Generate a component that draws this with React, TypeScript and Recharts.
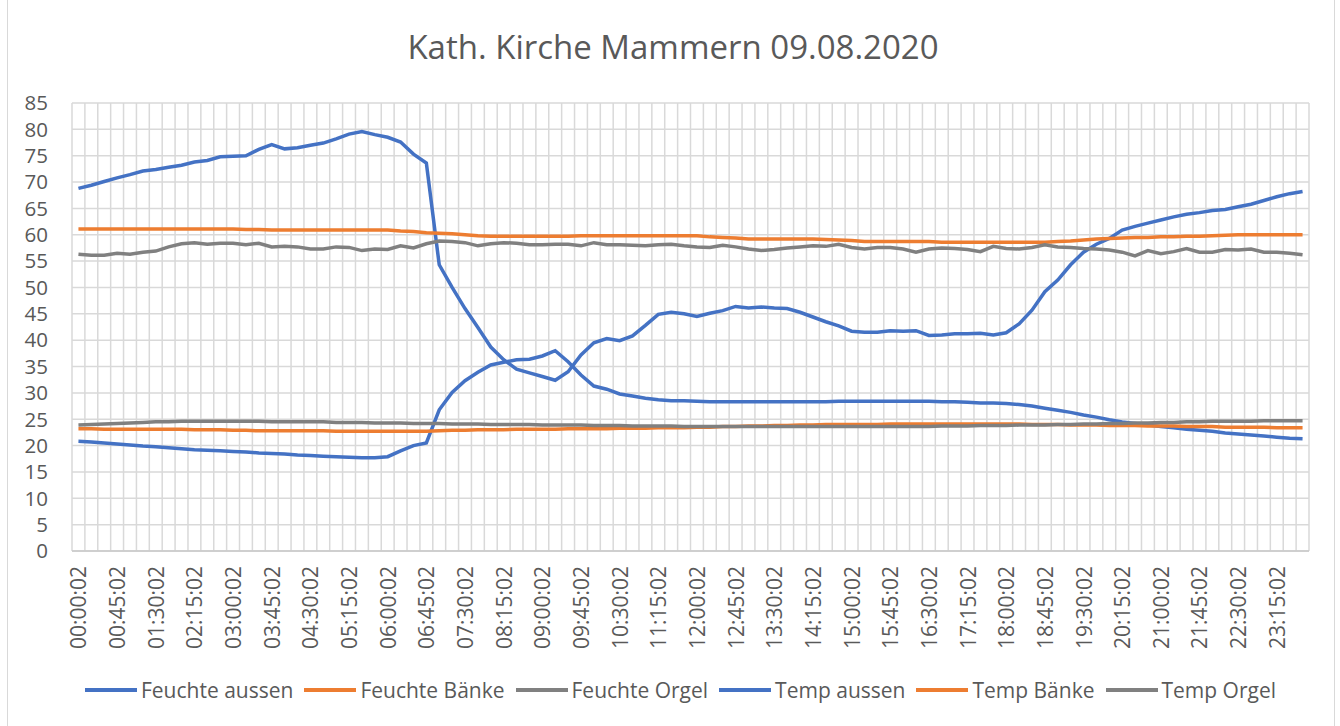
import { CartesianGrid, Legend, Line, LineChart, XAxis, YAxis } from "recharts";

const times = [
  "00:00:02", "00:15:02", "00:30:02", "00:45:02", "01:00:02", "01:15:02", "01:30:02", "01:45:02",
  "02:00:02", "02:15:02", "02:30:02", "02:45:02", "03:00:02", "03:15:02", "03:30:02", "03:45:02",
  "04:00:02", "04:15:02", "04:30:02", "04:45:02", "05:00:02", "05:15:02", "05:30:02", "05:45:02",
  "06:00:02", "06:15:02", "06:30:02", "06:45:02", "07:00:02", "07:15:02", "07:30:02", "07:45:02",
  "08:00:02", "08:15:02", "08:30:02", "08:45:02", "09:00:02", "09:15:02", "09:30:02", "09:45:02",
  "10:00:02", "10:15:02", "10:30:02", "10:45:02", "11:00:02", "11:15:02", "11:30:02", "11:45:02",
  "12:00:02", "12:15:02", "12:30:02", "12:45:02", "13:00:02", "13:15:02", "13:30:02", "13:45:02",
  "14:00:02", "14:15:02", "14:30:02", "14:45:02", "15:00:02", "15:15:02", "15:30:02", "15:45:02",
  "16:00:02", "16:15:02", "16:30:02", "16:45:02", "17:00:02", "17:15:02", "17:30:02", "17:45:02",
  "18:00:02", "18:15:02", "18:30:02", "18:45:02", "19:00:02", "19:15:02", "19:30:02", "19:45:02",
  "20:00:02", "20:15:02", "20:30:02", "20:45:02", "21:00:02", "21:15:02", "21:30:02", "21:45:02",
  "22:00:02", "22:15:02", "22:30:02", "22:45:02", "23:00:02", "23:15:02", "23:30:02", "23:45:02",
];

const feuchteAussen = [
  68.8, 69.4, 70.1, 70.8, 71.4, 72.1, 72.4, 72.8, 73.2, 73.8, 74.1, 74.8,
  74.9, 75.0, 76.2, 77.1, 76.3, 76.5, 77.0, 77.4, 78.2, 79.1, 79.6, 79.0,
  78.5, 77.6, 75.3, 73.6, 54.3, 50.0, 46.0, 42.4, 38.7, 36.3, 34.5, 33.8,
  33.1, 32.4, 34.0, 37.2, 39.5, 40.3, 39.9, 40.8, 42.8, 44.9, 45.3, 45.0,
  44.5, 45.1, 45.6, 46.4, 46.1, 46.3, 46.1, 46.0, 45.3, 44.4, 43.5, 42.7,
  41.7, 41.5, 41.5, 41.8, 41.7, 41.8, 40.9, 41.0, 41.2, 41.2, 41.3, 41.0,
  41.4, 43.1, 45.7, 49.2, 51.4, 54.3, 56.7, 58.2, 59.3, 60.9, 61.6, 62.2,
  62.8, 63.4, 63.9, 64.2, 64.6, 64.8, 65.3, 65.8, 66.5, 67.2, 67.8, 68.2,
];

const feuchteBaenke = [
  61.1, 61.1, 61.1, 61.1, 61.1, 61.1, 61.1, 61.1, 61.1, 61.1, 61.1, 61.1,
  61.1, 61.0, 61.0, 60.9, 60.9, 60.9, 60.9, 60.9, 60.9, 60.9, 60.9, 60.9,
  60.9, 60.7, 60.6, 60.4, 60.3, 60.2, 60.0, 59.8, 59.7, 59.7, 59.7, 59.7,
  59.7, 59.7, 59.7, 59.8, 59.8, 59.8, 59.8, 59.8, 59.8, 59.8, 59.8, 59.8,
  59.8, 59.6, 59.5, 59.4, 59.2, 59.2, 59.2, 59.2, 59.2, 59.2, 59.1, 59.0,
  58.9, 58.7, 58.7, 58.7, 58.7, 58.7, 58.7, 58.6, 58.6, 58.6, 58.6, 58.6,
  58.6, 58.6, 58.6, 58.6, 58.7, 58.8, 59.0, 59.2, 59.3, 59.4, 59.5, 59.5,
  59.6, 59.6, 59.7, 59.7, 59.8, 59.9, 60.0, 60.0, 60.0, 60.0, 60.0, 60.0,
];

const feuchteOrgel = [
  56.3, 56.1, 56.1, 56.5, 56.3, 56.7, 56.9, 57.7, 58.3, 58.5, 58.2, 58.4,
  58.4, 58.1, 58.4, 57.7, 57.8, 57.7, 57.3, 57.3, 57.7, 57.6, 57.0, 57.3,
  57.2, 57.9, 57.5, 58.3, 58.8, 58.7, 58.5, 57.9, 58.3, 58.5, 58.4, 58.1,
  58.1, 58.2, 58.2, 57.9, 58.5, 58.1, 58.1, 58.0, 57.9, 58.1, 58.2, 57.9,
  57.7, 57.6, 58.0, 57.7, 57.3, 57.0, 57.2, 57.5, 57.7, 57.9, 57.8, 58.2,
  57.6, 57.3, 57.6, 57.6, 57.3, 56.7, 57.3, 57.5, 57.4, 57.2, 56.8, 57.8,
  57.4, 57.3, 57.6, 58.1, 57.7, 57.6, 57.4, 57.3, 57.1, 56.7, 56.0, 57.0,
  56.4, 56.8, 57.4, 56.7, 56.7, 57.2, 57.1, 57.3, 56.7, 56.7, 56.5, 56.2,
];

const tempAussen = [
  20.8, 20.7, 20.5, 20.3, 20.1, 19.9, 19.8, 19.6, 19.4, 19.2, 19.1, 19.0,
  18.9, 18.8, 18.6, 18.5, 18.4, 18.2, 18.1, 18.0, 17.9, 17.8, 17.7, 17.7,
  17.9, 19.0, 20.0, 20.5, 26.8, 30.1, 32.3, 33.9, 35.3, 35.8, 36.3, 36.4,
  37.0, 38.0, 35.9, 33.4, 31.3, 30.7, 29.8, 29.4, 29.0, 28.7, 28.5, 28.5,
  28.4, 28.3, 28.3, 28.3, 28.3, 28.3, 28.3, 28.3, 28.3, 28.3, 28.3, 28.4,
  28.4, 28.4, 28.4, 28.4, 28.4, 28.4, 28.4, 28.3, 28.3, 28.2, 28.1, 28.1,
  28.0, 27.8, 27.5, 27.1, 26.7, 26.3, 25.8, 25.4, 24.9, 24.5, 24.2, 23.9,
  23.6, 23.4, 23.1, 22.9, 22.7, 22.4, 22.2, 22.0, 21.8, 21.6, 21.4, 21.3,
];

const tempBaenke = [
  23.2, 23.2, 23.1, 23.1, 23.1, 23.1, 23.1, 23.1, 23.1, 23.0, 23.0, 23.0,
  22.9, 22.9, 22.8, 22.8, 22.8, 22.8, 22.8, 22.8, 22.7, 22.7, 22.7, 22.7,
  22.7, 22.7, 22.7, 22.7, 22.8, 22.9, 22.9, 23.0, 23.0, 23.0, 23.1, 23.1,
  23.1, 23.1, 23.2, 23.2, 23.2, 23.2, 23.3, 23.3, 23.3, 23.4, 23.4, 23.4,
  23.5, 23.5, 23.6, 23.6, 23.7, 23.7, 23.8, 23.8, 23.9, 23.9, 24.0, 24.0,
  24.0, 24.0, 24.0, 24.1, 24.1, 24.1, 24.1, 24.1, 24.1, 24.1, 24.1, 24.1,
  24.1, 24.1, 24.0, 24.0, 24.0, 23.9, 23.9, 23.9, 23.8, 23.8, 23.8, 23.7,
  23.7, 23.7, 23.6, 23.6, 23.6, 23.5, 23.5, 23.5, 23.5, 23.4, 23.4, 23.4,
];

const tempOrgel = [
  23.9, 24.0, 24.1, 24.2, 24.3, 24.4, 24.5, 24.5, 24.6, 24.6, 24.6, 24.6,
  24.6, 24.6, 24.6, 24.5, 24.5, 24.5, 24.5, 24.5, 24.4, 24.4, 24.4, 24.3,
  24.3, 24.3, 24.2, 24.2, 24.2, 24.1, 24.1, 24.1, 24.0, 24.0, 24.0, 24.0,
  23.9, 23.9, 23.9, 23.9, 23.8, 23.8, 23.8, 23.7, 23.7, 23.7, 23.7, 23.6,
  23.6, 23.6, 23.6, 23.6, 23.6, 23.6, 23.6, 23.6, 23.6, 23.6, 23.6, 23.6,
  23.6, 23.6, 23.6, 23.6, 23.6, 23.6, 23.6, 23.7, 23.7, 23.7, 23.8, 23.8,
  23.8, 23.9, 23.9, 23.9, 24.0, 24.0, 24.1, 24.1, 24.2, 24.2, 24.3, 24.3,
  24.4, 24.4, 24.5, 24.5, 24.6, 24.6, 24.6, 24.6, 24.7, 24.7, 24.7, 24.7,
];

const yTicks = [0, 5, 10, 15, 20, 25, 30, 35, 40, 45, 50, 55, 60, 65, 70, 75, 80, 85];

const series = [
  { key: "feuchteAussen", name: "Feuchte aussen", color: "#4472C4" },
  { key: "feuchteBaenke", name: "Feuchte Bänke", color: "#ED7D31" },
  { key: "feuchteOrgel", name: "Feuchte Orgel", color: "#808080" },
  { key: "tempAussen", name: "Temp aussen", color: "#4472C4" },
  { key: "tempBaenke", name: "Temp Bänke", color: "#ED7D31" },
  { key: "tempOrgel", name: "Temp Orgel", color: "#808080" },
];

const data = times.map((time, i) => ({
  time,
  feuchteAussen: feuchteAussen[i],
  feuchteBaenke: feuchteBaenke[i],
  feuchteOrgel: feuchteOrgel[i],
  tempAussen: tempAussen[i],
  tempBaenke: tempBaenke[i],
  tempOrgel: tempOrgel[i],
}));

const FONT = "'Open Sans', sans-serif";
const TEXT = "#595959";

// excel draws the vertical grid between categories, not through the points
function categoryBoundaries({ offset }: any) {
  const step = offset.width / times.length;
  return [...times, ""].map((_, k) => offset.left + step * k);
}

function TimeTick({ x, y, payload }: any) {
  return (
    <text
      x={x}
      y={y}
      transform={`rotate(-90 ${x} ${y})`}
      textAnchor="end"
      dominantBaseline="central"
      fill={TEXT}
      fontSize={21}
      fontFamily={FONT}
    >
      {payload.value}
    </text>
  );
}

function LegendRow() {
  return (
    <div style={{ display: "flex", justifyContent: "center", alignItems: "center", fontFamily: FONT, fontSize: 21, color: TEXT }}>
      {series.map((s) => (
        <div key={s.key} style={{ display: "flex", alignItems: "center", marginRight: 11 }}>
          <span style={{ display: "inline-block", width: 52, height: 4, background: s.color, marginRight: 4 }} />
          <span>{s.name}</span>
        </div>
      ))}
    </div>
  );
}

export default function App() {
  return (
    <div style={{ position: "absolute", left: 0, top: 0, width: 1340, height: 726, background: "#fff" }}>
      <div style={{ position: "absolute", left: 7, top: 0, width: 1326, height: 726, borderLeft: "1px solid #d9d9d9", borderRight: "1px solid #d9d9d9" }} />
      <div style={{ position: "absolute", left: 0, top: 24, width: 1346, textAlign: "center", fontFamily: FONT, fontSize: 33, color: TEXT }}>
        Kath. Kirche Mammern 09.08.2020
      </div>
      <div style={{ position: "absolute", left: 0, top: 0 }}>
        <LineChart width={1340} height={726} data={data} margin={{ top: 103, right: 31, bottom: 65, left: 12 }}>
          <CartesianGrid stroke="#d9d9d9" strokeWidth={1.5} verticalCoordinatesGenerator={categoryBoundaries} />
          <XAxis
            dataKey="time"
            scale="band"
            interval={2}
            tickLine={false}
            tickSize={6}
            tickMargin={9}
            height={110}
            axisLine={{ stroke: "#c8c8c8", strokeWidth: 1.5 }}
            tick={<TimeTick />}
          />
          <YAxis
            width={60}
            domain={[0, 85]}
            ticks={yTicks}
            interval={0}
            axisLine={false}
            tickLine={false}
            tickSize={6}
            tickMargin={18}
            tick={{ fill: TEXT, fontSize: 20.5, fontFamily: FONT }}
          />
          <Legend
            verticalAlign="middle"
            align="center"
            layout="horizontal"
            wrapperStyle={{ top: 676, left: 16, width: 1340 }}
            content={<LegendRow />}
          />
          {series.map((s) => (
            <Line
              key={s.key}
              dataKey={s.key}
              name={s.name}
              type="linear"
              stroke={s.color}
              strokeWidth={3.5}
              dot={false}
              activeDot={false}
              isAnimationActive={false}
            />
          ))}
        </LineChart>
      </div>
    </div>
  );
}
